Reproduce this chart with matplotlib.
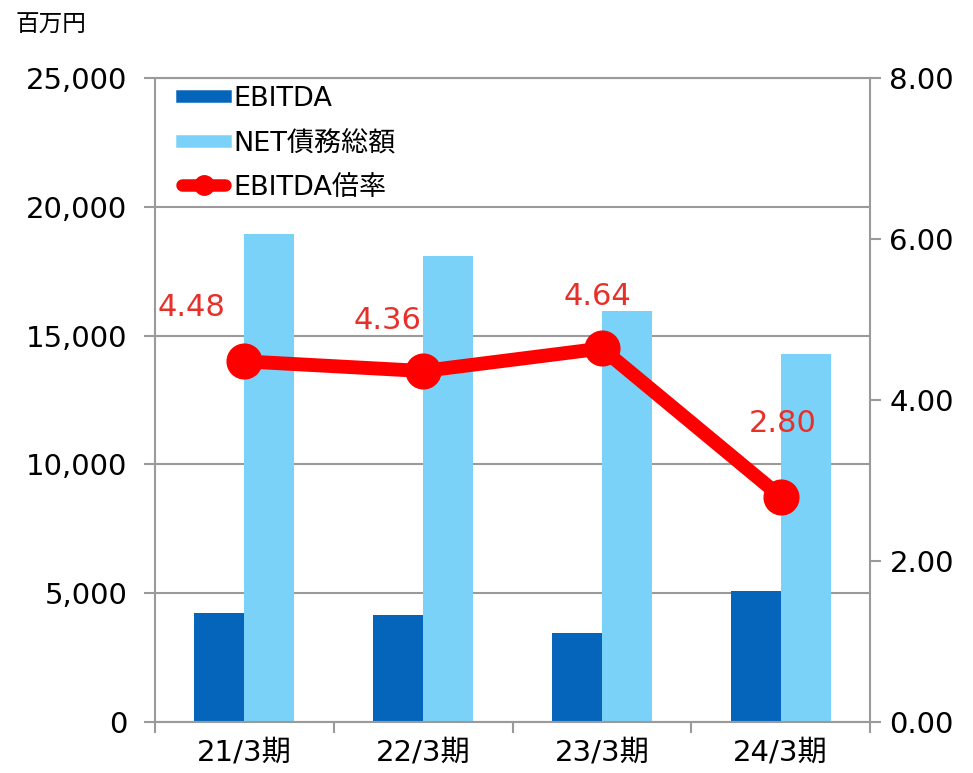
import matplotlib
matplotlib.use("Agg")
import matplotlib.pyplot as plt
from matplotlib.lines import Line2D
import numpy as np

plt.rcParams['font.family'] = ['DejaVu Sans', 'Noto Sans CJK JP']

# data
periods = ["21/3期", "22/3期", "23/3期", "24/3期"]
ebitda = [4230, 4150, 3450, 5090]
net_debt = [18950, 18080, 15950, 14280]
ratio = [4.48, 4.36, 4.64, 2.80]

# label offsets (pixels) for the ratio labels
label_offsets = [(-53, 54), (-36, 51), (-4, 52), (2, 73)]

blue_dark = "#0565BA"
blue_light = "#7BD2F8"
red = "#FF0000"
grid_grey = "#9A9A9A"
cjk = ['DejaVu Sans', 'Noto Sans CJK JP']

fig = plt.figure(figsize=(9.73, 7.73), dpi=100)
ax = fig.add_axes([155 / 973, 1 - 722 / 773, (870 - 155) / 973, (722 - 78) / 773])

x = np.arange(len(periods))
w = 0.28
ax.bar(x - w / 2, ebitda, width=w, color=blue_dark, zorder=2)
ax.bar(x + w / 2, net_debt, width=w, color=blue_light, zorder=2)

ax.set_xlim(-0.5, len(periods) - 0.5)
ax.set_ylim(0, 25000)
ax.set_yticks(range(0, 25001, 5000))
ax.set_yticklabels(["{:,}".format(v) for v in range(0, 25001, 5000)], fontsize=21)
ax.yaxis.grid(True, color=grid_grey, linewidth=1.5, zorder=0)
ax.set_axisbelow(True)

ax.set_xticks(x)
ax.set_xticklabels(periods, fontsize=21, family=cjk)
ax.set_xticks(np.arange(-0.5, len(periods)), minor=True)
ax.tick_params(axis="x", which="major", length=0, pad=12)
ax.tick_params(axis="x", which="minor", length=8, width=1.5, color=grid_grey, direction="out")
ax.tick_params(axis="y", length=8, width=1.5, color=grid_grey, direction="out", pad=12)

for s in ["left", "right", "bottom", "top"]:
    ax.spines[s].set_color(grid_grey)
    ax.spines[s].set_linewidth(1.5)
ax.spines["right"].set_visible(False)

ax2 = ax.twinx()
ax2.set_ylim(0, 8)
ax2.set_yticks([0, 2, 4, 6, 8])
ax2.set_yticklabels(["{:.2f}".format(v) for v in [0, 2, 4, 6, 8]], fontsize=21)
ax2.tick_params(axis="y", length=8, width=1.5, color=grid_grey, direction="out", pad=6)
for s in ["left", "top", "bottom"]:
    ax2.spines[s].set_visible(False)
ax2.spines["right"].set_color(grid_grey)
ax2.spines["right"].set_linewidth(1.5)

ax2.plot(x, ratio, color=red, linewidth=10, marker="o", markersize=25,
         solid_capstyle="round", zorder=3)
for xi, r, (dx, dy) in zip(x, ratio, label_offsets):
    ax2.annotate("{:.2f}".format(r), (xi, r), xytext=(dx * 0.72, dy * 0.72),
                 textcoords="offset points", ha="center", va="center",
                 fontsize=22, color="#E8302A")

handles = [
    Line2D([0], [0], color=blue_dark, linewidth=9),
    Line2D([0], [0], color=blue_light, linewidth=9),
    Line2D([0], [0], color=red, linewidth=9, marker="o", markersize=14,
           solid_capstyle="round"),
]
leg = ax.legend(handles, ["EBITDA", "NET債務総額", "EBITDA倍率"],
                loc="upper left", bbox_to_anchor=(0.015, 1.013), frameon=False,
                handlelength=1.6, handletextpad=0.3,
                labelspacing=0.68, borderaxespad=0.2,
                prop={"family": cjk, "size": 19.5})

fig.text(15 / 973, 1 - 25 / 773, "百万円", fontsize=17, va="center", ha="left",
         family=['Noto Sans CJK JP', 'DejaVu Sans'])

fig.savefig("out.png", dpi=100)
